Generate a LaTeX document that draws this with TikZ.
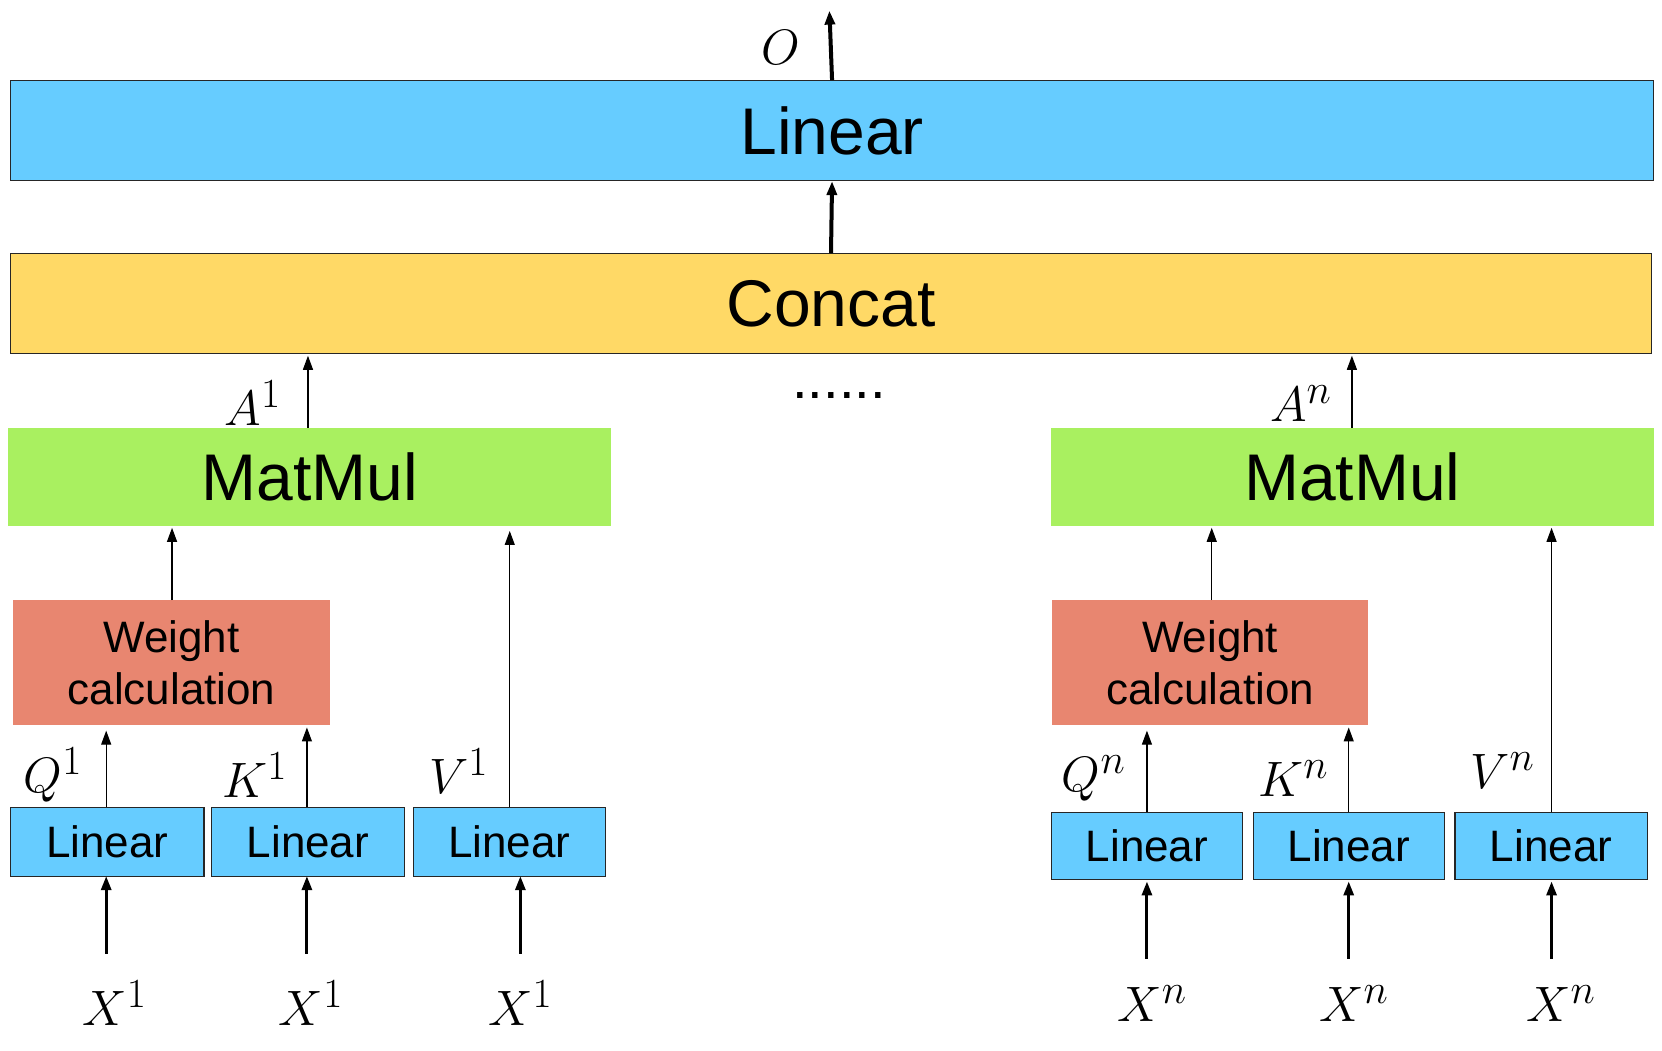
\documentclass[tikz,border=0pt]{standalone}
\usepackage{fontspec}
\setmainfont{Liberation Sans}
\usetikzlibrary{arrows.meta}
\definecolor{lblue}{HTML}{66CCFF}
\definecolor{lyel}{HTML}{FFD966}
\definecolor{lgreen}{HTML}{A9F060}
\definecolor{lsal}{HTML}{E88670}
\begin{document}
\begin{tikzpicture}[x=0.531pt,y=-0.531pt,
  box/.style={draw=black!85,line width=0.6pt,inner sep=0},
  big/.style={font=\fontsize{33}{36}\selectfont},
  med/.style={font=\fontsize{22}{26}\selectfont},
  lab/.style={font=\fontsize{28}{30}\selectfont},
  thin/.style={-{Triangle[length=7pt,width=5pt]},line width=0.6pt},
  thick/.style={-{Triangle[length=7pt,width=5pt]},line width=2pt}]
\useasboundingbox (0,0) rectangle (1565,989);
\node[box,fill=lblue,minimum width=1547*0.531pt,minimum height=94*0.531pt,big] (lin) at (783.5,123) {Linear};
\node[box,fill=lyel,minimum width=1545*0.531pt,minimum height=94*0.531pt,big] (cat) at (782.5,286) {Concat};
\draw[thick] (cat.north) -- (lin.south);
\coordinate (o) at (781,10);
\draw[thick] (lin.north) -- (o);
\node[lab] (ol) at (735,45) {$O$};
\node[box,draw=none,fill=lgreen,minimum width=567*0.531pt,minimum height=92*0.531pt,big] (m1) at (291.5,449) {MatMul};
\node[box,draw=none,fill=lgreen,minimum width=567*0.531pt,minimum height=92*0.531pt,big] (m2) at (1273.5,449) {MatMul};
\draw[thin] (290,403) -- (290,335);
\draw[thin] (1273,403) -- (1273,335);
\node[lab] (a1) at (238,380) {$A^1$};
\node[lab] (an) at (1225,380) {$A^n$};
\node[lab] (dots) at (790,372) {......};
\node[box,draw=none,fill=lsal,minimum width=299*0.531pt,minimum height=118*0.531pt,med,align=center] (w1) at (161.5,624) {Weight\\calculation};
\node[box,draw=none,fill=lsal,minimum width=297*0.531pt,minimum height=118*0.531pt,med,align=center] (w2) at (1139.5,624) {Weight\\calculation};
\draw[thin] (162,565) -- (162,497);
\draw[thin] (1141,565) -- (1141,497);
% left linears
\node[box,fill=lblue,minimum width=182*0.531pt,minimum height=65*0.531pt,med] (l1) at (101,792.5) {Linear};
\node[box,fill=lblue,minimum width=182*0.531pt,minimum height=65*0.531pt,med] (l2) at (290,792.5) {Linear};
\node[box,fill=lblue,minimum width=181*0.531pt,minimum height=65*0.531pt,med] (l3) at (479.5,792.5) {Linear};
\node[box,fill=lblue,minimum width=180*0.531pt,minimum height=63*0.531pt,med] (r1) at (1080,796.5) {Linear};
\node[box,fill=lblue,minimum width=180*0.531pt,minimum height=63*0.531pt,med] (r2) at (1270,796.5) {Linear};
\node[box,fill=lblue,minimum width=181*0.531pt,minimum height=63*0.531pt,med] (r3) at (1460.5,796.5) {Linear};
\draw[thin] (100,760) -- (100,688);
\draw[thin] (289,760) -- (289,685);
\draw[thin] (480,760) -- (480,500);
\draw[thin] (1080,765) -- (1080,688);
\draw[thin] (1270,765) -- (1270,685);
\draw[thin] (1461,765) -- (1461,497);
\node[lab] (q1) at (50,730) {$Q^1$};
\node[lab] (k1) at (240,730) {$K^1$};
\node[lab] (v1) at (432,726) {$V^1$};
\node[lab] (qn) at (1030,733) {$Q^n$};
\node[lab] (kn) at (1218,733) {$K^n$};
\node[lab] (vn) at (1415,726) {$V^n$};
\foreach \x/\n in {100/a,289/b,490/c}{
  \draw[thick,line width=1.5pt] (\x,898) -- (\x,825);
}
\foreach \x in {1080,1270,1461}{
  \draw[thick,line width=1.5pt] (\x,903) -- (\x,830);
}
\node[lab] (x1) at (108,945) {$X^1$};
\node[lab] (x2) at (293,945) {$X^1$};
\node[lab] (x3) at (490,945) {$X^1$};
\node[lab] (x4) at (1085,945) {$X^n$};
\node[lab] (x5) at (1275,945) {$X^n$};
\node[lab] (x6) at (1470,945) {$X^n$};
\end{tikzpicture}
\end{document}
